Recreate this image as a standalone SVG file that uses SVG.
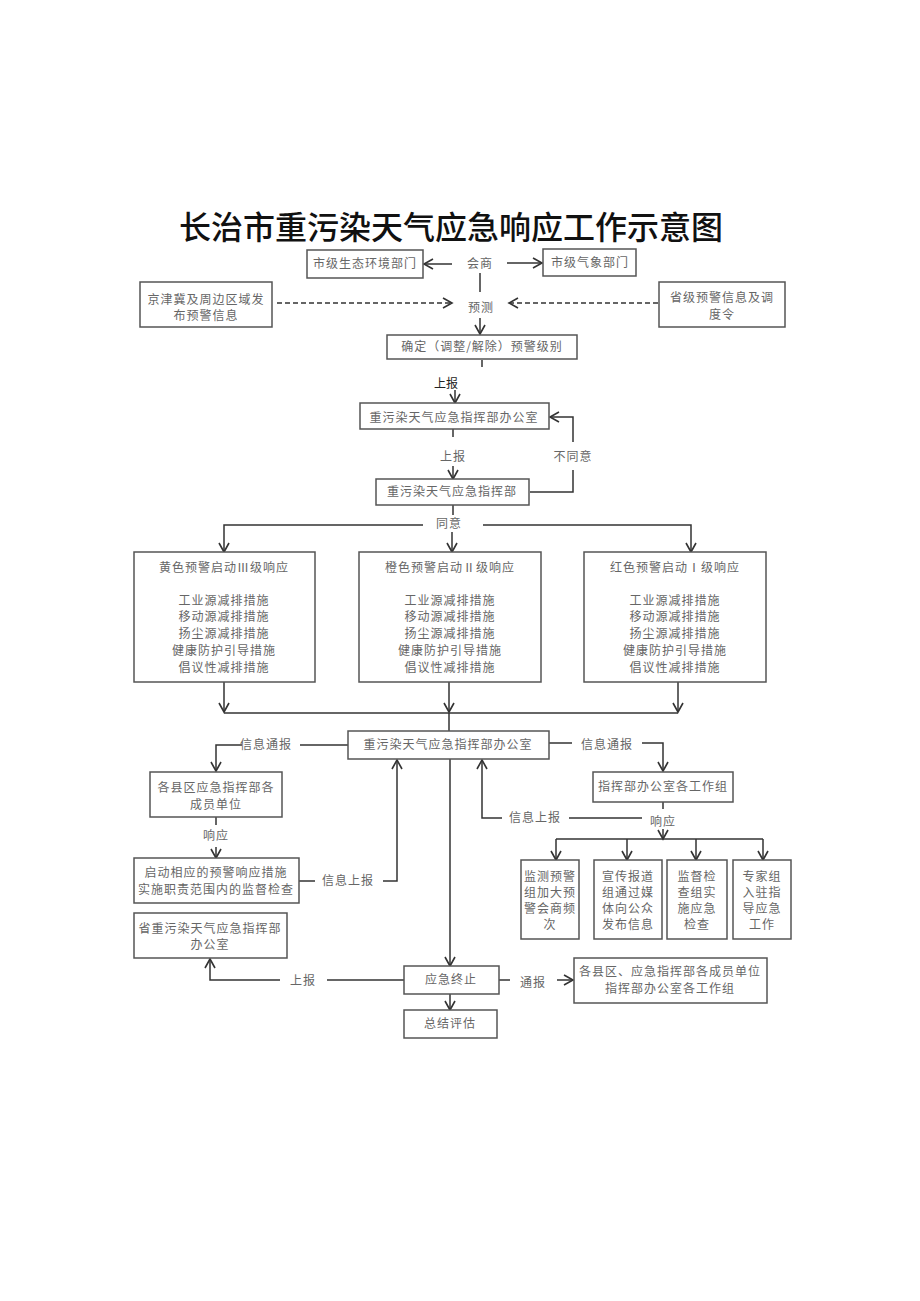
<svg xmlns="http://www.w3.org/2000/svg" width="920" height="1301" viewBox="0 0 920 1301">
<style>
.box{fill:#fff;stroke:#555;stroke-width:1.5}
.t{font-family:"Noto Sans CJK SC","Noto Sans",sans-serif;font-size:12px;fill:#666;text-anchor:middle;letter-spacing:1px}
.tb{font-family:"Noto Sans CJK SC","Noto Sans",sans-serif;font-size:12px;fill:#222;text-anchor:middle}
.ln{fill:none;stroke:#333;stroke-width:1.5}
.ar{fill:none;stroke:#333;stroke-width:1.5;marker-end:url(#ah)}
.da{fill:none;stroke:#333;stroke-width:1.5;stroke-dasharray:5,3;marker-end:url(#ah)}
</style>
<defs>
<marker id="ah" markerUnits="userSpaceOnUse" markerWidth="12" markerHeight="12" refX="10" refY="6" orient="auto">
<path d="M1,1 L10,6 L1,11" fill="none" stroke="#333" stroke-width="1.6"/>
</marker>
</defs>
<rect width="920" height="1301" fill="#fff"/>
<text x="451" y="239" font-family="'Noto Sans CJK SC',sans-serif" font-size="32" font-weight="500" fill="#111" text-anchor="middle">长治市重污染天气应急响应工作示意图</text>

<g id="connectors">
<path class="ar" d="M452,264 L424,264"/>
<path class="ar" d="M507,263 L542,263"/>
<path class="ln" d="M480,273 L480,292"/>
<path class="ar" d="M480,318 L480,334"/>
<path class="da" d="M277,303 L452,303"/>
<path class="da" d="M658,303 L509,303"/>
<path class="ln" d="M482,360 L482,367"/>
<path class="ar" d="M455,390 L455,403"/>
<path class="ln" d="M453,429 L453,437"/>
<path class="ar" d="M453,466 L453,479"/>
<path class="ln" d="M530,492 L573,492 L573,470"/>
<path class="ar" d="M573,442 L573,417 L550,417"/>
<path class="ln" d="M453,505 L453,515"/>
<path class="ar" d="M423,525 L224,525 L224,552"/>
<path class="ar" d="M483,525 L691,525 L691,552"/>
<path class="ar" d="M452,532 L452,552"/>
<path class="ar" d="M224,682 L224,712"/>
<path class="ar" d="M449,682 L449,712"/>
<path class="ar" d="M678,682 L678,712"/>
<path class="ln" d="M224,713 L678,713"/>
<path class="ln" d="M449,713 L449,731"/>
<path class="ln" d="M348,745 L300,745"/>
<path class="ar" d="M242,745 L216,745 L216,771"/>
<path class="ln" d="M216,817 L216,825"/>
<path class="ar" d="M216,847 L216,858"/>
<path class="ln" d="M299,881 L315,881"/>
<path class="ar" d="M383,881 L397,881 L397,760"/>
<path class="ln" d="M549,743 L572,743"/>
<path class="ar" d="M642,743 L663,743 L663,771"/>
<path class="ln" d="M663,802 L663,809"/>
<path class="ln" d="M642,818 L569,818"/>
<path class="ar" d="M502,818 L482,818 L482,760"/>
<path class="ar" d="M663,829 L663,839"/>
<path class="ln" d="M556,839 L763,839"/>
<path class="ar" d="M556,839 L556,860"/>
<path class="ar" d="M627,839 L627,860"/>
<path class="ar" d="M696,839 L696,860"/>
<path class="ar" d="M763,839 L763,860"/>
<path class="ar" d="M450,759 L450,966"/>
<path class="ln" d="M404,980 L327,980"/>
<path class="ar" d="M280,980 L210,980 L210,959"/>
<path class="ln" d="M499,980 L510,980"/>
<path class="ar" d="M557,980 L573,980"/>
<path class="ar" d="M450,994 L450,1010"/>
</g>

<g id="n1"><rect class="box" x="307" y="250" width="116" height="28"/><text class="t" x="365" y="268">市级生态环境部门</text></g>
<g id="n2"><text class="t" x="480" y="268">会商</text></g>
<g id="n3"><rect class="box" x="543" y="249" width="93" height="27"/><text class="t" x="590" y="267">市级气象部门</text></g>
<g id="n4"><rect class="box" x="140" y="282" width="132" height="45"/><text class="t" x="206" y="304">京津冀及周边区域发</text><text class="t" x="206" y="320">布预警信息</text></g>
<g id="n5"><text class="t" x="481" y="312">预测</text></g>
<g id="n6"><rect class="box" x="659" y="282" width="126" height="45"/><text class="t" x="722" y="302">省级预警信息及调</text><text class="t" x="722" y="319">度令</text></g>
<g id="n7"><rect class="box" x="387" y="335" width="190" height="24"/><text class="t" x="482" y="351">确定（调整/解除）预警级别</text></g>
<g id="l1"><text class="tb" x="446" y="388">上报</text></g>
<g id="n8"><rect class="box" x="360" y="403" width="189" height="26"/><text class="t" x="454" y="422">重污染天气应急指挥部办公室</text></g>
<g id="l2"><text class="t" x="453" y="461">上报</text><text class="t" x="573" y="461">不同意</text></g>
<g id="n9"><rect class="box" x="376" y="479" width="153" height="26"/><text class="t" x="452" y="496">重污染天气应急指挥部</text></g>
<g id="l3"><text class="t" x="449" y="528">同意</text></g>

<g id="n10"><rect class="box" x="134" y="552" width="181" height="130"/>
<text class="t" x="224" y="572">黄色预警启动Ⅲ级响应</text>
<text class="t" x="224" y="605">工业源减排措施</text><text class="t" x="224" y="621">移动源减排措施</text><text class="t" x="224" y="638">扬尘源减排措施</text><text class="t" x="224" y="655">健康防护引导措施</text><text class="t" x="224" y="672">倡议性减排措施</text></g>
<g id="n11"><rect class="box" x="359" y="552" width="182" height="130"/>
<text class="t" x="450" y="572">橙色预警启动Ⅱ级响应</text>
<text class="t" x="450" y="605">工业源减排措施</text><text class="t" x="450" y="621">移动源减排措施</text><text class="t" x="450" y="638">扬尘源减排措施</text><text class="t" x="450" y="655">健康防护引导措施</text><text class="t" x="450" y="672">倡议性减排措施</text></g>
<g id="n12"><rect class="box" x="584" y="552" width="182" height="130"/>
<text class="t" x="675" y="572">红色预警启动Ⅰ级响应</text>
<text class="t" x="675" y="605">工业源减排措施</text><text class="t" x="675" y="621">移动源减排措施</text><text class="t" x="675" y="638">扬尘源减排措施</text><text class="t" x="675" y="655">健康防护引导措施</text><text class="t" x="675" y="672">倡议性减排措施</text></g>

<g id="n13"><rect class="box" x="348" y="731" width="201" height="28"/><text class="t" x="448" y="749">重污染天气应急指挥部办公室</text></g>
<g id="l4"><text class="t" x="266" y="749">信息通报</text><text class="t" x="607" y="749">信息通报</text></g>
<g id="n14"><rect class="box" x="150" y="772" width="132" height="45"/><text class="t" x="216" y="792">各县区应急指挥部各</text><text class="t" x="216" y="809">成员单位</text></g>
<g id="l5"><text class="t" x="216" y="840">响应</text></g>
<g id="n15"><rect class="box" x="134" y="858" width="165" height="45"/><text class="t" x="216" y="877">启动相应的预警响应措施</text><text class="t" x="216" y="894">实施职责范围内的监督检查</text></g>
<g id="l6"><text class="t" x="348" y="885">信息上报</text></g>
<g id="n16"><rect class="box" x="593" y="772" width="140" height="30"/><text class="t" x="663" y="791">指挥部办公室各工作组</text></g>
<g id="l7"><text class="t" x="535" y="822">信息上报</text><text class="t" x="663" y="826">响应</text></g>
<g id="n17"><rect class="box" x="521" y="860" width="58" height="79"/><text class="t" x="550" y="881">监测预警</text><text class="t" x="550" y="897">组加大预</text><text class="t" x="550" y="913">警会商频</text><text class="t" x="550" y="929">次</text></g>
<g id="n18"><rect class="box" x="594" y="860" width="68" height="79"/><text class="t" x="628" y="881">宣传报道</text><text class="t" x="628" y="897">组通过媒</text><text class="t" x="628" y="913">体向公众</text><text class="t" x="628" y="929">发布信息</text></g>
<g id="n19"><rect class="box" x="667" y="860" width="60" height="79"/><text class="t" x="697" y="881">监督检</text><text class="t" x="697" y="897">查组实</text><text class="t" x="697" y="913">施应急</text><text class="t" x="697" y="929">检查</text></g>
<g id="n20"><rect class="box" x="733" y="860" width="58" height="79"/><text class="t" x="762" y="881">专家组</text><text class="t" x="762" y="897">入驻指</text><text class="t" x="762" y="913">导应急</text><text class="t" x="762" y="929">工作</text></g>
<g id="n21"><rect class="box" x="134" y="913" width="153" height="45"/><text class="t" x="210" y="933">省重污染天气应急指挥部</text><text class="t" x="210" y="949">办公室</text></g>
<g id="l8"><text class="t" x="303" y="985">上报</text><text class="t" x="533" y="987">通报</text></g>
<g id="n22"><rect class="box" x="404" y="966" width="95" height="28"/><text class="t" x="451" y="984">应急终止</text></g>
<g id="n23"><rect class="box" x="574" y="958" width="193" height="45"/><text class="t" x="670" y="976">各县区、应急指挥部各成员单位</text><text class="t" x="670" y="993">指挥部办公室各工作组</text></g>
<g id="n24"><rect class="box" x="404" y="1010" width="93" height="28"/><text class="t" x="450" y="1028">总结评估</text></g>
</svg>
